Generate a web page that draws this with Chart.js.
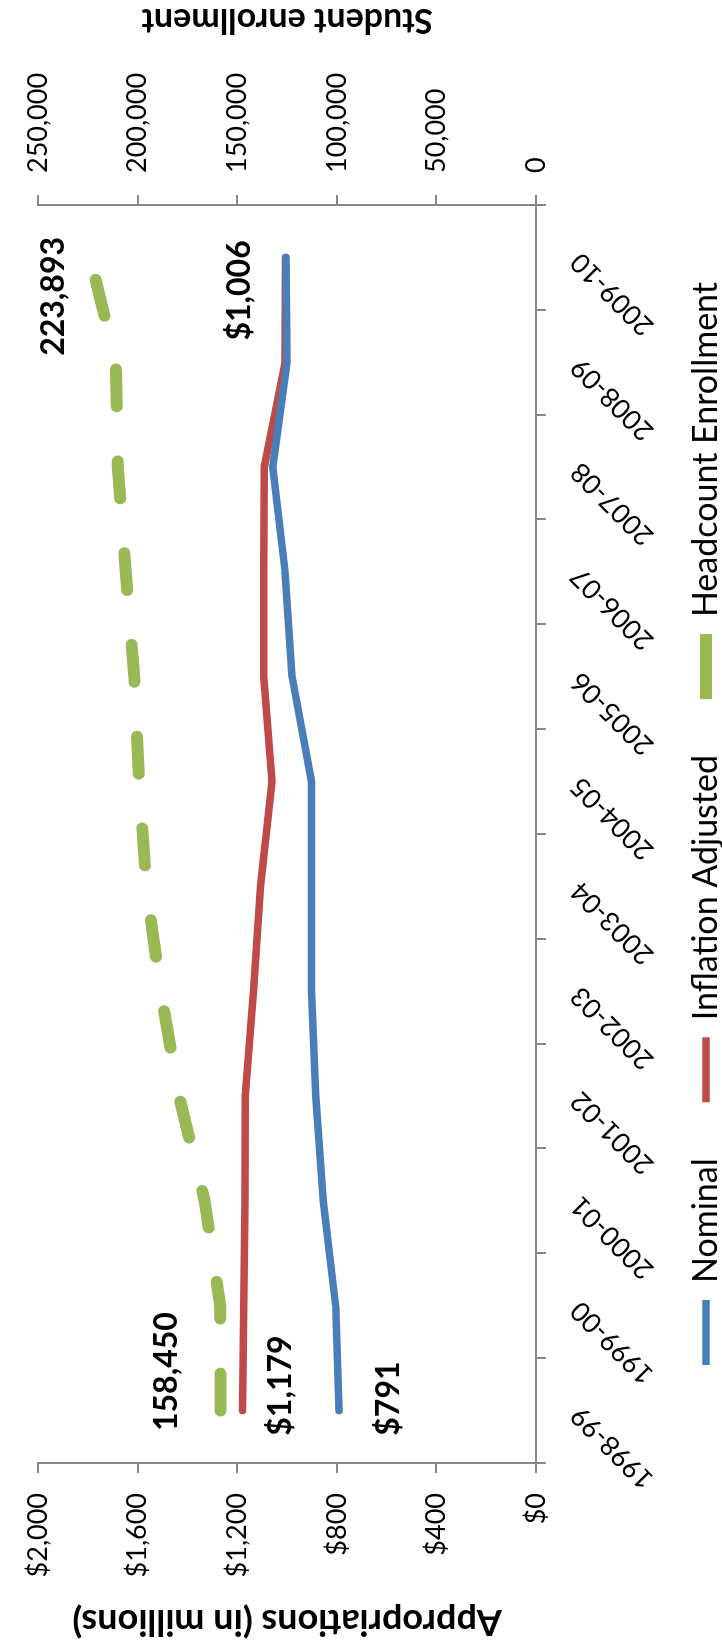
<!DOCTYPE html>
<html>
<head>
<meta charset="utf-8">
<script src="https://cdn.jsdelivr.net/npm/chart.js@4.4.1/dist/chart.umd.min.js"></script>
<style>
html, body { margin: 0; padding: 0; background: #fff; overflow: hidden; width: 722px; height: 1647px; }
#wrap { position: absolute; left: 0; top: 0; width: 1647px; height: 722px; transform-origin: 0 0; transform: translate(0, 1647px) rotate(-90deg); }
canvas { display: block; }
</style>
</head>
<body>
<div id="wrap"><canvas id="c" width="1647" height="722"></canvas></div>
<script>
// ---- data ----
const categories = ['1998-99','1999-00','2000-01','2001-02','2002-03','2003-04','2004-05','2005-06','2006-07','2007-08','2008-09','2009-10'];
const nominal = [791, 805, 855, 885, 902, 902, 902, 980, 1008, 1058, 1000, 1004];
const inflationAdjusted = [1179, 1174, 1169, 1168, 1135, 1107, 1061, 1094, 1094, 1092, 1008, 1006];
const headcount = [158450, 158600, 166400, 179300, 188500, 195700, 199300, 201800, 206000, 210000, 211000, 223893];
const appropTicks = ['$0', '$400', '$800', '$1,200', '$1,600', '$2,000'];
const enrollTicks = ['0', '50,000', '100,000', '150,000', '200,000', '250,000'];
const nominalLabels = ['$791', '', '', '', '', '', '', '', '', '', '', ''];
const inflationLabels = ['$1,179', '', '', '', '', '', '', '', '', '', '', '$1,006'];
const headcountLabels = ['158,450', '', '', '', '', '', '', '', '', '', '', '223,893'];

// ---- styling ----
const axisColor = '#868686';
const FONT = 'Lato, "Open Sans", sans-serif';
Chart.defaults.font.family = FONT;
Chart.defaults.color = '#000';

// fixed legend band height
const LEGEND_H = 89;
if (Chart.Legend && Chart.Legend._element) {
  const LegendEl = Chart.Legend._element;
  const origFit = LegendEl.prototype.fit;
  LegendEl.prototype.fit = function () {
    origFit.call(this);
    if (this.isHorizontal()) this.height = LEGEND_H;
  };
}

const labelOffsets = [
  { 0: [12, 50] },
  { 0: [25, 38], 11: [-33, -46] },
  { 0: [39, -54], 11: [-39, -36] }
];

const pointLabelPlugin = {
  id: 'pointLabelPlugin',
  afterDatasetsDraw(chart, args, opts) {
    const ctx = chart.ctx;
    ctx.save();
    ctx.font = 'bold 32px ' + FONT;
    ctx.fillStyle = '#000';
    ctx.textAlign = 'center';
    ctx.textBaseline = 'middle';
    opts.labels.forEach((arr, di) => {
      const ds = chart.data.datasets[di];
      const ys = chart.scales[ds.yAxisID];
      arr.forEach((t, i) => {
        if (!t) return;
        const off = opts.offsets[di][i] || [0, 0];
        const x = chart.scales.x.getPixelForValue(i);
        const y = ys.getPixelForValue(ds.data[i]);
        ctx.fillText(t, x + off[0], y + off[1]);
      });
    });
    ctx.restore();
  }
};

// axis titles, both reading bottom-to-top as in the original
const axisTitlePlugin = {
  id: 'axisTitlePlugin',
  afterDraw(chart, args, opts) {
    const ctx = chart.ctx;
    const a = chart.chartArea;
    opts.titles.forEach(t => {
      ctx.save();
      ctx.font = 'bold ' + t.size + 'px ' + FONT;
      ctx.fillStyle = '#000';
      ctx.textAlign = 'center';
      ctx.textBaseline = 'middle';
      ctx.translate(t.x, (a.top + a.bottom) / 2);
      ctx.rotate(-Math.PI / 2);
      ctx.fillText(t.text, 0, 0);
      ctx.restore();
    });
  }
};

new Chart(document.getElementById('c'), {
  type: 'line',
  data: {
    labels: categories,
    datasets: [
      { label: 'Nominal', data: nominal, yAxisID: 'y', borderColor: '#4A7EBB', backgroundColor: '#4A7EBB', borderWidth: 7.5, borderCapStyle: 'round', borderJoinStyle: 'round', pointRadius: 0, tension: 0, fill: false },
      { label: 'Inflation Adjusted', data: inflationAdjusted, yAxisID: 'y', borderColor: '#BE4B48', backgroundColor: '#BE4B48', borderWidth: 7.5, borderCapStyle: 'round', borderJoinStyle: 'round', pointRadius: 0, tension: 0, fill: false },
      { label: 'Headcount Enrollment', data: headcount, yAxisID: 'y1', borderColor: '#98B954', backgroundColor: '#98B954', borderWidth: 12, borderCapStyle: 'round', borderJoinStyle: 'round', borderDash: [37, 55], pointRadius: 0, tension: 0, fill: false }
    ]
  },
  options: {
    responsive: false,
    animation: false,
    devicePixelRatio: 1,
    events: [],
    layout: { padding: { top: 23, bottom: 0, left: 0, right: 0 } },
    scales: {
      x: {
        type: 'category',
        offset: true,
        grid: { offset: true, drawOnChartArea: false, drawTicks: true, tickLength: 10, color: axisColor, lineWidth: 2 },
        border: { display: true, color: axisColor, width: 2 },
        ticks: { minRotation: 45, maxRotation: 45, autoSkip: false, padding: 18, font: { size: 27 }, color: '#000' },
        afterFit: s => { s.height = 97; s._computeLabelArea = () => undefined; }
      },
      y: {
        position: 'left',
        min: 0, max: 2000,
        ticks: { stepSize: 400, padding: 20, font: { size: 27 }, color: '#000', callback: (v, i) => appropTicks[i] },
        grid: { drawOnChartArea: false, drawTicks: true, tickLength: 10, color: axisColor, lineWidth: 2 },
        border: { display: true, color: axisColor, width: 2 },
        afterFit: s => { s.width = 184; }
      },
      y1: {
        position: 'right',
        min: 0, max: 250000,
        ticks: { stepSize: 50000, padding: 22, font: { size: 27 }, color: '#000', callback: (v, i) => enrollTicks[i] },
        grid: { drawOnChartArea: false, drawTicks: true, tickLength: 10, color: axisColor, lineWidth: 2 },
        border: { display: true, color: axisColor, width: 2 },
        afterFit: s => { s.width = 205; }
      }
    },
    plugins: {
      legend: {
        position: 'bottom',
        labels: { usePointStyle: true, pointStyle: 'line', pointStyleWidth: 65, font: { size: 34 }, color: '#000', padding: 56 }
      },
      tooltip: { enabled: false },
      pointLabelPlugin: { labels: [nominalLabels, inflationLabels, headcountLabels], offsets: labelOffsets },
      axisTitlePlugin: { titles: [
        { text: 'Appropriations (in millions)', x: 25, size: 36 },
        { text: 'Student enrollment', x: 1627, size: 34 }
      ] }
    }
  },
  plugins: [pointLabelPlugin, axisTitlePlugin]
});
</script>
</body>
</html>
